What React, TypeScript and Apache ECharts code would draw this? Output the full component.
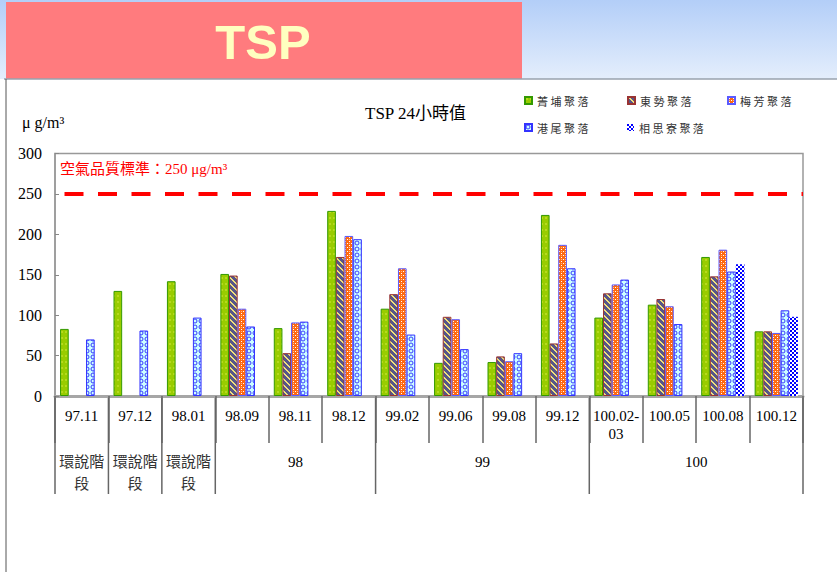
import React, { useEffect, useRef } from 'react';
import * as echarts from 'echarts';

const categories = ['97.11', '97.12', '98.01', '98.09', '98.11', '98.12', '99.02', '99.06', '99.08', '99.12', '100.02-\n03', '100.05', '100.08', '100.12'];
const seriesNames = ['菁 埔 聚 落', '東 勢 聚 落', '梅 芳 聚 落', '港 尾 聚 落', '相 思 寮 聚 落'];
const jingpu = [83, 130, 142, 151, 84, 229, 108, 41, 42, 224, 97, 113, 172, 80];
const dongshi = [null, null, null, 149, 53, 172, 126, 98, 49, 65, 127, 120, 148, 80];
const meifang = [null, null, null, 108, 91, 198, 158, 95, 43, 187, 138, 111, 181, 78];
const gangwei = [70, 81, 97, 86, 92, 194, 76, 58, 53, 158, 144, 89, 154, 106];
const xiangsiliao = [null, null, null, null, null, null, null, null, null, null, null, null, 163, 98];
const standardValue = 250;
const standardLabel = '空氣品質標準：250 μg/m³';
const chartTitle = 'TSP 24小時值';
const unitLabel = 'μ g/m³';
const headerTitle = 'TSP';
const stageGroups = [
  { label: '環說階\n段', from: 0, to: 0 },
  { label: '環說階\n段', from: 1, to: 1 },
  { label: '環說階\n段', from: 2, to: 2 },
  { label: '98', from: 3, to: 5 },
  { label: '99', from: 6, to: 9 },
  { label: '100', from: 10, to: 13 },
];

const SERIF = 'Liberation Serif, Times New Roman, Noto Sans CJK TC, serif';
const CJK = 'Noto Sans CJK TC, sans-serif';

function makePattern(w: number, h: number, draw: (ctx: CanvasRenderingContext2D) => void) {
  const c = document.createElement('canvas');
  c.width = w;
  c.height = h;
  const ctx = c.getContext('2d')!;
  draw(ctx);
  return { image: c, repeat: 'repeat' } as any;
}

export default function App() {
  const ref = useRef<HTMLDivElement>(null);
  useEffect(() => {
    if (!ref.current) return;
    const chart = echarts.init(ref.current, undefined, { renderer: 'svg' });

    const pGreen = makePattern(4, 6, (ctx) => {
      ctx.fillStyle = '#99CC00';
      ctx.fillRect(0, 0, 4, 6);
      ctx.fillStyle = '#B6DA1E';
      ctx.fillRect(1, 1, 2, 2);
    });
    const pStripe = makePattern(6, 6, (ctx) => {
      for (let x = 0; x < 6; x++) {
        for (let y = 0; y < 6; y++) {
          ctx.fillStyle = (((x - y) % 6) + 6) % 6 < 2 ? '#F2E07A' : '#56568A';
          ctx.fillRect(x, y, 1, 1);
        }
      }
    });
    const pOrange = makePattern(4, 4, (ctx) => {
      ctx.fillStyle = '#FF6A10';
      ctx.fillRect(0, 0, 4, 4);
      ctx.fillStyle = '#FFFFFF';
      ctx.fillRect(1, 1, 1, 1);
      ctx.fillRect(3, 3, 1, 1);
      ctx.fillStyle = '#FFB88A';
      ctx.fillRect(1, 3, 1, 1);
    });
    const pCyan = makePattern(6, 6, (ctx) => {
      ctx.fillStyle = '#CCFFFF';
      ctx.fillRect(0, 0, 6, 6);
      ctx.strokeStyle = '#3A3AFF';
      ctx.lineWidth = 1;
      ctx.beginPath();
      ctx.arc(3, 3, 2, 0, Math.PI * 2);
      ctx.stroke();
    });
    const pChecker = makePattern(4, 4, (ctx) => {
      ctx.fillStyle = '#FFFFFF';
      ctx.fillRect(0, 0, 4, 4);
      ctx.fillStyle = '#0000FF';
      ctx.fillRect(0, 0, 2, 2);
      ctx.fillRect(2, 2, 2, 2);
    });

    const seriesData = [jingpu, dongshi, meifang, gangwei, xiangsiliao];
    const fills = [pGreen, pStripe, pOrange, pCyan, pChecker];
    const borders = ['#339900', '#993333', '#5A5AFF', '#3333FF', '#0000FF'];
    const borderWidths = [1, 1, 1, 1, 0];
    const legendPos = [[524, 95], [627, 95], [727, 95], [524, 122], [627, 122]];

    const series: any[] = seriesData.map((d, i) => ({
      type: 'bar',
      name: seriesNames[i],
      data: d,
      barGap: '0%',
      barCategoryGap: '19%',
      itemStyle: { color: fills[i], borderColor: borders[i], borderWidth: borderWidths[i] },
      emphasis: { disabled: true },
    }));
    series[0].markLine = {
      silent: true,
      symbol: ['none', 'none'],
      data: [{ yAxis: standardValue }],
      lineStyle: { color: '#FF0000', width: 4, type: [19, 14.5], dashOffset: 23.5 },
      label: {
        show: true,
        position: 'insideStartTop',
        formatter: standardLabel,
        color: '#FF0000',
        fontSize: 15,
        fontFamily: SERIF,
        distance: [5, 17],
      },
      emphasis: { disabled: true },
    };

    chart.setOption({
      animation: false,
      title: {
        text: chartTitle,
        left: 365,
        top: 105,
        padding: 0,
        textStyle: { fontFamily: SERIF, fontSize: 17, fontWeight: 'normal', color: '#000' },
      },
      legend: seriesNames.map((n, i) => ({
        data: [n],
        left: legendPos[i][0],
        top: legendPos[i][1],
        padding: 0,
        itemWidth: 7,
        itemHeight: 7,
        icon: 'rect',
        selectedMode: false,
        textStyle: { fontFamily: CJK, fontSize: 11, color: '#333' },
      })),
      grid: { left: 55, right: 34, top: 153.5, bottom: 176, show: true, borderColor: '#999', borderWidth: 1.5 },
      xAxis: {
        type: 'category',
        data: categories,
        axisLine: { show: true, lineStyle: { color: '#A6A6A6', width: 3 } },
        axisTick: { show: true, length: 47, lineStyle: { color: '#666', width: 1.5 } },
        axisLabel: { interval: 0, margin: 11, fontFamily: SERIF, fontSize: 15, color: '#000', lineHeight: 18 },
        splitLine: { show: false },
      },
      yAxis: {
        type: 'value',
        min: 0,
        max: 300,
        interval: 50,
        axisLine: { show: true, lineStyle: { color: '#999', width: 1.5 } },
        axisTick: { show: true, inside: true, length: 4, lineStyle: { color: '#888' } },
        axisLabel: { margin: 13, fontFamily: SERIF, fontSize: 16, color: '#000' },
        splitLine: { show: false },
      },
      series,
    });

    const c0 = chart.convertToPixel({ xAxisIndex: 0 }, 0) as number;
    const c1 = chart.convertToPixel({ xAxisIndex: 0 }, 1) as number;
    const band = c1 - c0;
    const edge = (i: number) => c0 - band / 2 + i * band;
    const axisY = chart.convertToPixel({ yAxisIndex: 0 }, 0) as number;
    const tableBottom = axisY + 98;

    const graphics: any[] = [
      {
        type: 'rect',
        shape: { x: 0, y: 0, width: 837, height: 79 },
        style: {
          fill: new echarts.graphic.LinearGradient(0, 0, 0, 1, [
            { offset: 0, color: '#B3CEF8' },
            { offset: 1, color: '#E4EEFC' },
          ]),
        },
        silent: true,
      },
      { type: 'rect', shape: { x: 6, y: 2, width: 516, height: 77 }, style: { fill: '#FF7B7E' }, silent: true },
      {
        type: 'text',
        x: 263,
        y: 42,
        style: {
          text: headerTitle,
          fill: '#FFFFC0',
          font: 'bold 49px Liberation Sans, Arial, sans-serif',
          align: 'center',
          verticalAlign: 'middle',
          textAlign: 'center',
          textVerticalAlign: 'middle',
        },
        silent: true,
      },
      { type: 'line', shape: { x1: 4, y1: 79, x2: 837, y2: 79 }, style: { stroke: '#98A2AE', lineWidth: 1.5 }, silent: true },
      { type: 'line', shape: { x1: 6, y1: 79, x2: 6, y2: 572 }, style: { stroke: '#555', lineWidth: 1 }, silent: true },
      {
        type: 'text',
        x: 22,
        y: 122,
        style: {
          text: unitLabel,
          fill: '#000',
          font: '16px ' + SERIF,
          align: 'left',
          verticalAlign: 'middle',
          textAlign: 'left',
          textVerticalAlign: 'middle',
        },
        silent: true,
      },
    ];

    const longEdges = new Set<number>();
    stageGroups.forEach((g) => {
      longEdges.add(g.from);
      longEdges.add(g.to + 1);
      const cx = (edge(g.from) + edge(g.to + 1)) / 2;
      graphics.push({
        type: 'text',
        x: cx,
        y: axisY + 55,
        style: {
          text: g.label,
          fill: g.from < 3 ? '#333' : '#000',
          font: '15px ' + SERIF,
          lineHeight: 22,
          align: 'center',
          verticalAlign: 'top',
          textAlign: 'center',
          textVerticalAlign: 'top',
        },
        silent: true,
      });
    });
    longEdges.forEach((i) => {
      const x = edge(i);
      graphics.push({
        type: 'line',
        shape: { x1: x, y1: axisY, x2: x, y2: tableBottom },
        style: { stroke: '#666', lineWidth: 1.5 },
        silent: true,
      });
    });

    chart.setOption({ graphic: graphics });

    return () => chart.dispose();
  }, []);

  return <div ref={ref} style={{ position: 'absolute', left: 0, top: 0, width: 837, height: 572 }} />;
}
